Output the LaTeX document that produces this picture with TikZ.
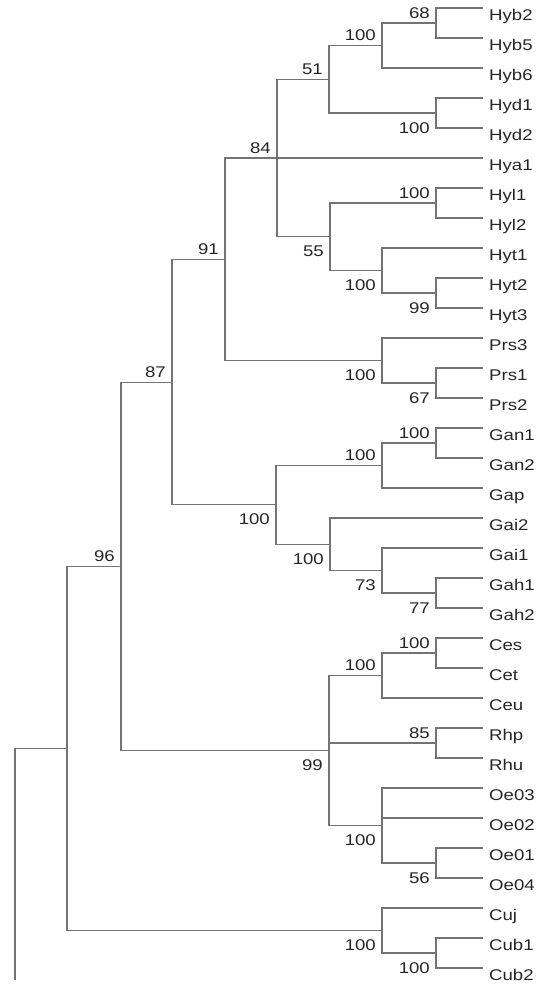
\documentclass[tikz,border=0pt]{standalone}
\usepackage{fontspec}
\setmainfont{Liberation Sans}[FakeStretch=1.2]
\usepackage{tikz}
\usetikzlibrary{positioning}

\tikzset{
  branch/.style={draw=black!55, line width=1.1pt},
  leaf/.style={anchor=north west, inner xsep=6pt, inner ysep=0pt, text height=12pt, text depth=3pt, text=black!85},
  bsup/.style={anchor=base east, xshift=-6pt, yshift=5pt, inner sep=0pt, text=black!85},
  bsdn/.style={anchor=base east, xshift=-6pt, yshift=-20pt, inner sep=0pt, text=black!85}
}

\begin{document}
\begin{tikzpicture}[x=1pt,y=-1pt,font=\fontsize{15.5}{18}\selectfont]
\useasboundingbox (0,0) rectangle (540,985);
% taxa
\node [leaf] (Hyb2) at (483,8)   {Hyb2};
\node [leaf] (Hyb5) at (483,38)  {Hyb5};
\node [leaf] (Hyb6) at (483,68)  {Hyb6};
\node [leaf] (Hyd1) at (483,98)  {Hyd1};
\node [leaf] (Hyd2) at (483,128) {Hyd2};
\node [leaf] (Hya1) at (483,158) {Hya1};
\node [leaf] (Hyl1) at (483,188) {Hyl1};
\node [leaf] (Hyl2) at (483,218) {Hyl2};
\node [leaf] (Hyt1) at (483,248) {Hyt1};
\node [leaf] (Hyt2) at (483,278) {Hyt2};
\node [leaf] (Hyt3) at (483,308) {Hyt3};
\node [leaf] (Prs3) at (483,338) {Prs3};
\node [leaf] (Prs1) at (483,368) {Prs1};
\node [leaf] (Prs2) at (483,398) {Prs2};
\node [leaf] (Gan1) at (483,428) {Gan1};
\node [leaf] (Gan2) at (483,458) {Gan2};
\node [leaf] (Gap)  at (483,488) {Gap};
\node [leaf] (Gai2) at (483,518) {Gai2};
\node [leaf] (Gai1) at (483,548) {Gai1};
\node [leaf] (Gah1) at (483,578) {Gah1};
\node [leaf] (Gah2) at (483,608) {Gah2};
\node [leaf] (Ces)  at (483,638) {Ces};
\node [leaf] (Cet)  at (483,668) {Cet};
\node [leaf] (Ceu)  at (483,698) {Ceu};
\node [leaf] (Rhp)  at (483,728) {Rhp};
\node [leaf] (Rhu)  at (483,758) {Rhu};
\node [leaf] (Oe03) at (483,788) {Oe03};
\node [leaf] (Oe02) at (483,818) {Oe02};
\node [leaf] (Oe01) at (483,848) {Oe01};
\node [leaf] (Oe04) at (483,878) {Oe04};
\node [leaf] (Cuj)  at (483,908) {Cuj};
\node [leaf] (Cub1) at (483,938) {Cub1};
\node [leaf] (Cub2) at (483,968) {Cub2};
% internal nodes
\coordinate (nHyb)  at (436,23);
\coordinate (nHybb) at (382,45.5);
\coordinate (nHyd)  at (436,113);
\coordinate (n51)   at (329,79.25);
\coordinate (nHyl)  at (436,203);
\coordinate (nHytb) at (436,293);
\coordinate (nHyt)  at (382,270.5);
\coordinate (n55)   at (330,236.75);
\coordinate (n84)   at (277,158);
\coordinate (nPrsb) at (436,383);
\coordinate (nPrs)  at (382,360.5);
\coordinate (n91)   at (225,259.25);
\coordinate (nGan)  at (436,443);
\coordinate (nGanp) at (382,465.5);
\coordinate (nGah)  at (436,593);
\coordinate (n73)   at (382,570.5);
\coordinate (nGai)  at (330,544.25);
\coordinate (nGa)   at (276,504.9);
\coordinate (n87)   at (172,382.1);
\coordinate (nCes)  at (436,653);
\coordinate (nCe)   at (382,675.5);
\coordinate (nRh)   at (436,743);
\coordinate (nOeb)  at (436,863);
\coordinate (nOe)   at (382,825.5);
\coordinate (n99)   at (329,750.5);
\coordinate (n96)   at (121,566.3);
\coordinate (nCub)  at (436,953);
\coordinate (nCu)   at (382,930.5);
\coordinate (nA)    at (67,748.4);
\coordinate (base)  at (15,980);
% branches
\draw [branch] (nHyb) |- (Hyb2.north west) (nHyb) |- (Hyb5.north west);
\draw [branch] (nHybb) |- (nHyb) (nHybb) |- (Hyb6.north west);
\draw [branch] (nHyd) |- (Hyd1.north west) (nHyd) |- (Hyd2.north west);
\draw [branch] (n51) |- (nHybb) (n51) |- (nHyd);
\draw [branch] (nHyl) |- (Hyl1.north west) (nHyl) |- (Hyl2.north west);
\draw [branch] (nHytb) |- (Hyt2.north west) (nHytb) |- (Hyt3.north west);
\draw [branch] (nHyt) |- (Hyt1.north west) (nHyt) |- (nHytb);
\draw [branch] (n55) |- (nHyl) (n55) |- (nHyt);
\draw [branch] (n84) |- (n51) (n84) |- (n55) (n84) -- (Hya1.north west);
\draw [branch] (nPrsb) |- (Prs1.north west) (nPrsb) |- (Prs2.north west);
\draw [branch] (nPrs) |- (Prs3.north west) (nPrs) |- (nPrsb);
\draw [branch] (n91) |- (n84) (n91) |- (nPrs);
\draw [branch] (nGan) |- (Gan1.north west) (nGan) |- (Gan2.north west);
\draw [branch] (nGanp) |- (nGan) (nGanp) |- (Gap.north west);
\draw [branch] (nGah) |- (Gah1.north west) (nGah) |- (Gah2.north west);
\draw [branch] (n73) |- (Gai1.north west) (n73) |- (nGah);
\draw [branch] (nGai) |- (Gai2.north west) (nGai) |- (n73);
\draw [branch] (nGa) |- (nGanp) (nGa) |- (nGai);
\draw [branch] (n87) |- (n91) (n87) |- (nGa);
\draw [branch] (nCes) |- (Ces.north west) (nCes) |- (Cet.north west);
\draw [branch] (nCe) |- (nCes) (nCe) |- (Ceu.north west);
\draw [branch] (nRh) |- (Rhp.north west) (nRh) |- (Rhu.north west);
\draw [branch] (nOeb) |- (Oe01.north west) (nOeb) |- (Oe04.north west);
\draw [branch] (nOe) |- (Oe03.north west) (nOe) |- (nOeb) (nOe |- Oe02.north west) -- (Oe02.north west);
\draw [branch] (n99) |- (nCe) (n99) |- (nOe) (n99 |- nRh) -- (nRh);
\draw [branch] (n96) |- (n87) (n96) |- (n99);
\draw [branch] (nCub) |- (Cub1.north west) (nCub) |- (Cub2.north west);
\draw [branch] (nCu) |- (Cuj.north west) (nCu) |- (nCub);
\draw [branch] (nA) |- (n96) (nA) |- (nCu);
\draw [branch] (base) |- (nA);
% bootstrap values
\node [bsup] (bHyb)  at (nHyb)  {68};
\node [bsup] (bHybb) at (nHybb) {100};
\node [bsup] (b51)   at (n51)   {51};
\node [bsdn] (bHyd)  at (nHyd)  {100};
\node [bsup] (b84)   at (n84)   {84};
\node [bsup] (bHyl)  at (nHyl)  {100};
\node [bsdn] (b55)   at (n55)   {55};
\node [bsdn] (bHyt)  at (nHyt)  {100};
\node [bsdn] (bHytb) at (nHytb) {99};
\node [bsup] (b91)   at (n91)   {91};
\node [bsdn] (bPrs)  at (nPrs)  {100};
\node [bsdn] (bPrsb) at (nPrsb) {67};
\node [bsup] (b87)   at (n87)   {87};
\node [bsup] (bGan)  at (nGan)  {100};
\node [bsup] (bGanp) at (nGanp) {100};
\node [bsdn] (bGa)   at (nGa)   {100};
\node [bsdn] (bGai)  at (nGai)  {100};
\node [bsdn] (b73)   at (n73)   {73};
\node [bsdn] (bGah)  at (nGah)  {77};
\node [bsup] (b96)   at (n96)   {96};
\node [bsup] (bCes)  at (nCes)  {100};
\node [bsup] (bCe)   at (nCe)   {100};
\node [bsup] (bRh)   at (nRh)   {85};
\node [bsdn] (b99)   at (n99)   {99};
\node [bsdn] (bOe)   at (nOe)   {100};
\node [bsdn] (bOeb)  at (nOeb)  {56};
\node [bsdn] (bCu)   at (nCu)   {100};
\node [bsdn] (bCub)  at (nCub)  {100};
\end{tikzpicture}
\end{document}
